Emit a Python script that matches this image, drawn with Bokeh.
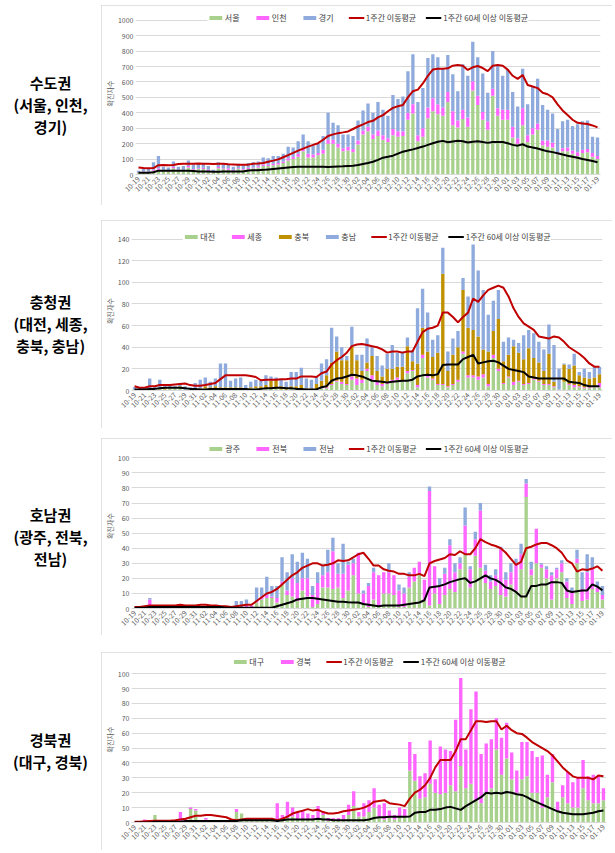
import math
import pandas as pd
from bokeh.plotting import figure
from bokeh.models import ColumnDataSource, FixedTicker, Legend, LegendItem, Range1d, Div, Spacer
from bokeh.layouts import row, column
from bokeh.embed import file_html
from bokeh.resources import INLINE

FONT = "Noto Sans CJK KR"
dates = [d.strftime("%m-%d") for d in pd.date_range("2020-10-19", "2021-01-19")]
xs = list(range(len(dates)))

# ---------------- Panel 1: 수도권 ----------------
seoul = [10,15,15,25,30,25,20,40,25,25, 45,30,35,35,25,15,40,35,30,25,
         35,30,35,40,45,55,55,60,65,75, 90,100,115,150,110,110,125,135,200,200,
         175,150,155,145,195,260,280,230,250,225, 210,255,245,250,355,395,215,245,365,410,
         390,380,470,320,305,360,310,545,450,355, 290,510,380,355,355,240,200,320,210,260,
         290,190,180,175,130,150,150,135,120,140, 145,115,100]
incheon = [3,4,3,5,10,5,5,10,5,5, 10,5,5,8,5,3,8,5,10,5,
           5,5,8,5,8,10,8,10,10,10, 15,15,20,20,25,20,15,25,25,25,
           25,20,25,20,25,25,30,30,35,30, 25,40,35,30,45,60,40,55,70,85,
           65,55,65,90,45,60,60,60,60,50, 55,45,50,65,65,70,35,110,45,40,
           40,30,40,30,15,20,25,20,25,20, 20,25,20]
gyeonggi = [12,16,17,50,80,20,20,35,20,25, 35,30,30,32,25,12,32,30,30,20,
            30,25,32,35,32,45,42,50,45,50, 75,60,80,90,80,60,60,90,175,110,
            120,90,80,85,130,130,150,140,185,165, 145,220,210,225,270,325,215,260,320,285,
            305,255,240,240,190,295,270,255,250,250, 185,245,280,220,260,225,205,255,200,270,
            290,230,200,190,150,175,180,160,180,185, 185,105,120]
ma1 = [46,42,41,42,60,61,60,62,68,70, 70,70,71,70,70,68,69,70,66,65,
       64,63,64,70,72,75,83,90,98,112, 126,140,155,168,181,192,203,225,250,260,
       268,273,279,295,311,325,340,348,370,385, 410,432,442,450,500,540,550,590,640,680,
       686,686,688,705,710,705,678,695,703,690, 670,705,710,705,680,640,620,645,580,570,
       560,530,520,500,455,415,385,355,335,330, 327,318,305]
old1 = [12,12,12,15,25,25,25,25,25,24, 24,22,20,20,20,18,18,20,20,20,
        20,20,26,27,28,30,33,36,39,42, 45,48,50,50,50,50,50,50,48,50,
        52,53,55,57,61,68,75,83,95,109, 115,122,135,148,155,163,172,181,192,203,
        212,218,209,214,218,216,207,212,216,210, 205,211,211,211,203,192,187,196,181,175,
        168,159,150,145,138,130,122,115,108,100, 94,88,80]

# ---------------- Panel 2: 충청권 ----------------
daejeon = [1,1,1,2,1,2,1,2,2,3, 1,1,1,1,2,1,2,2,2,2,
           2,2,1,2,2,2,2,2,2,1, 1,2,2,2,1,1,1,2,2,5,
           8,6,5,10,5,7,18,10,5,4, 6,8,10,8,16,18,3,30,12,10,
           5,5,3,5,8,34,12,12,10,12, 4,30,18,6,12,5,8,5,6,10,
           8,5,5,3,1,8,5,3,3,2, 2,3,3]
sejong = [0,0,0,0,0,0,0,0,0,0, 0,0,0,0,0,0,0,0,0,0,
          0,0,0,0,0,0,0,0,0,0, 0,0,0,0,0,0,0,1,1,1,
          1,2,1,3,6,3,2,4,3,2, 2,2,2,1,2,1,2,3,2,1,
          1,1,1,1,2,2,2,2,3,3, 2,3,2,1,1,3,1,1,1,1,
          1,1,1,1,0,0,1,2,1,1, 1,1,4]
chungbuk = [0,0,0,0,0,0,1,1,0,1, 0,0,1,1,2,2,2,1,1,1,
            1,1,1,1,2,2,3,7,8,3, 2,2,2,3,1,1,5,6,11,20,
            27,20,22,28,17,8,6,18,10,7, 12,10,10,13,23,8,20,25,22,20,
            29,102,14,27,30,57,44,42,37,23, 30,22,46,20,20,33,26,23,32,19,
            17,12,28,4,0,16,14,18,10,9, 8,8,8]
chungnam = [2,1,1,9,3,8,2,2,2,3, 3,2,5,8,8,5,7,22,22,6,
            8,9,3,5,6,5,9,4,2,6, 5,13,13,16,9,8,7,16,15,32,
            14,12,4,18,5,15,22,8,14,10, 14,22,13,14,8,10,51,36,36,16,
            16,24,18,15,15,11,29,79,61,55, 34,28,27,18,16,6,9,22,17,23,
            19,20,27,34,19,1,4,11,3,8, 6,10,7]
ma2 = [4,2.5,2.5,4,4,5,5,5,5.5,6, 6.5,5,4.5,4.5,5,6,7,10.5,14,14,
       14,14,14,13.5,12.5,9.5,10,10,10,10.5, 10.5,11,11,13,13,13,12.5,16,17.5,24,
       28,31,35,41,42.5,43,42,41,40,38, 35,36,36,35,36,36,45,54,57,58,
       60,72,72,68,63,68,72,85,82,88, 93,95,97,95,87,76,68,62,59,56,
       50,49,48,50,49,45,40,37,34,30, 25,22,22]
old2 = [1,1,1,1.5,1.5,2,2.5,2.5,2.5,2.5, 2,1.5,1.5,1,1,1.5,1.5,1.5,1.5,1.5,
        1.5,1.5,1.5,1,1,1.5,2,2,2.5,2.5, 2,2,1.5,1.5,1,1,1,3,4,9,
        11,11.5,13,14.5,14,13,11,9,8.5,8, 7.5,8,8.5,9,9,10,13,14,14.5,14,
        15,23.5,24,24,24,29,31,33,25,26, 27,27.5,26,23,20,19,18,17,13,12,
        11,11,11,11,11,11,8,7.5,7,5, 4,4,4]

# ---------------- Panel 3: 호남권 ----------------
gwangju = [0,0,0,2,0,1,1,0,1,1, 0,1,0,1,1,0,1,0,0,0,
           1,1,1,1,4,6,7,7,4,16, 9,8,5,12,8,1,3,14,14,13,
           14,7,12,22,10,3,1,6,1,10, 10,9,1,1,14,18,23,5,2,10,
           3,9,13,11,26,36,14,35,27,17, 13,15,9,8,16,12,26,74,22,30,
           27,20,6,20,24,7,3,30,5,6, 13,11,6]
jeonbuk = [0,0,1,4,1,0,0,1,0,1, 1,0,1,0,0,1,0,1,0,0,
           0,0,1,1,1,2,2,1,3,2, 3,12,12,8,12,8,14,8,10,25,
           9,16,17,8,27,7,14,18,21,14, 14,13,11,9,7,9,8,14,76,18,
           12,14,29,13,4,19,12,11,38,8, 5,7,30,11,8,18,10,9,4,23,
           2,6,16,6,6,11,8,3,8,18, 14,3,3]
jeonnam = [0,0,0,1,0,0,0,0,0,0, 0,0,0,0,0,0,0,0,0,0,
           4,4,4,0,9,6,12,7,8,16, 12,16,14,17,13,6,7,6,15,9,
           7,20,2,3,0,2,2,3,0,0, 6,0,4,4,3,0,0,0,3,0,
           5,4,4,6,4,12,2,5,5,4, 4,4,2,5,6,3,7,3,5,0,
           1,2,2,1,2,2,3,6,11,12, 7,4,6]
ma3 = [1,1,1.5,2,2,2,2,2,2,2.5, 2,2,2,2.5,2.5,2,2,1.5,1.5,1,
       1.5,2,2.5,2.5,5,7.5,10,11,13,16, 19,22,24,27,28.5,30,30,28.5,29,30,
       32,31.5,32,34,36,37,33,28.5,28.5,26, 25,24.5,23,23,22,22,23,21.5,30,31.5,
       32.5,33.5,36,35.5,38,36,36,40,46,44, 42.5,41.5,40,37,33,29,31,40,41,42.5,
       43.5,43.5,42,40,37,32,30,24.5,26,25.5, 26.5,28,25]
old3 = [0.5,0.5,0.5,1,1,1,1,1,1,1, 1,1,1,1,1,1,1,1,0.5,0.5,
        0.5,0.5,0.5,0.5,0.5,0.5,0.5,0.5,1.5,2.5, 3.5,4.5,6,6.5,7,7,6.5,6,5.5,5,
        4.5,4.5,4.2,4,4,3,2.5,2,1.5,2, 2,2,2,2.5,3,3.5,4,5.5,14,14.5,
        15,16,17.5,18.5,19.5,20,17,18,20,22, 20,19,17,14,13,11,8,8,15,15,
        16,16,17.5,17.5,17,12,11,11.5,12,12, 16,14.5,12]

# ---------------- Panel 4: 경북권 ----------------
daegu = [0,0,0,0,5,1,0,1,0,1, 1,9,8,1,2,1,0,1,1,0,
         7,6,1,1,1,2,1,1,2,2, 3,4,2,2,2,2,3,5,1,1,
         1,2,5,11,4,4,7,10,4,2, 3,2,4,4,35,28,16,17,26,20,
         19,20,25,21,38,23,26,15,13,20, 23,49,32,43,29,20,29,31,20,20,
         10,17,27,8,17,13,10,10,23,15, 13,13,15]
gyeongbuk = [0,0,2,0,0,0,1,0,1,6, 2,1,1,0,1,0,1,0,0,1,
             2,0,1,1,1,1,1,0,11,3, 11,6,5,6,4,3,8,2,2,2,
             2,3,7,10,3,9,8,13,8,11, 5,3,6,5,19,18,15,16,29,9,
             32,29,23,48,59,26,50,73,33,33, 33,21,25,24,18,15,25,23,28,24,
             35,15,19,6,8,21,17,20,19,16, 19,18,8]
ma4 = [0.5,0.5,0.8,1,1.2,1.2,1.2,1.2,1.5,2, 2.5,3.5,4.5,4.5,5,5,4.5,4,3.5,2,
       1.5,2,2.5,2.5,2.5,2.5,2.5,2.5,1.5,2.5, 4,6,7,8,9,8,8.5,7,6,6,
       6.5,7.5,8,8.5,9,10,11.5,14,14.5,15, 13,12.5,12,11,16,20,22,25,30,37,
       42,42,42,48,56,56,62,68,68,67.5, 68,68,62.5,65,62,60,59.5,57,54,52,
       50,48,45,41,37,34,31,30,30,30, 29,31.5,31]
old4 = [0,0,0,0,0.5,0.5,0.5,0.5,0.5,0.5, 1,1,1,1,1,1,1,1,1,1,
        1,1.5,1.5,1.5,1.5,1.5,1.5,1.5,1,1.5, 2,2,2,2,2,2,2.5,2,2,1.5,
        1.5,1.5,1.5,1.5,1.5,1.5,2,3,3.5,3.5, 3.8,3.8,3.8,3.8,4,6.5,7,7,8.5,8.5,
        9,10,10.5,9.5,8.5,11,13,15,17,20, 19.5,20,19.5,20.5,20,19,18.5,17,15,13.5,
        12,10.5,9,7.5,6.5,6,5.5,5.5,5.5,6, 6.5,7.5,8]

MA_LABEL = "1주간 이동평균"
OLD_LABEL = "1주간 60세 이상 이동평균"

GREEN, MAGENTA, BLUE, GOLD = "#a9d18e", "#ff66ff", "#8faadc", "#bf9000"
FIG_W = 511


def make_panel(names, values, colors, ma, old, y_end, y_top_tick, y_step,
               height, top, bottom, right):
    data = {"x": xs, "ma": ma, "old": old}
    keys = []
    for i, v in enumerate(values):
        k = "s%d" % i
        keys.append(k)
        data[k] = v
    src = ColumnDataSource(data)
    p = figure(width=FIG_W, height=height, x_range=Range1d(-0.6, len(xs) - 0.4),
               y_range=Range1d(0, y_end), output_backend="svg", toolbar_location=None,
               min_border_top=top, min_border_bottom=bottom, min_border_left=4,
               min_border_right=right, margin=0)
    bars = p.vbar_stack(keys, x="x", width=0.66, color=colors, line_color=None, source=src)
    lr = p.line("x", "ma", source=src, line_color="#c00000", line_width=2)
    lb = p.line("x", "old", source=src, line_color="#000000", line_width=2)

    items = [LegendItem(label=n, renderers=[r]) for n, r in zip(names, bars)]
    items += [LegendItem(label=MA_LABEL, renderers=[lr]),
              LegendItem(label=OLD_LABEL, renderers=[lb])]
    leg = Legend(items=items, location="top_center", orientation="horizontal",
                 label_text_font=FONT, label_text_font_size="8px",
                 label_text_color="#404040", glyph_width=16, glyph_height=5,
                 label_standoff=2, spacing=9, padding=2, margin=0,
                 border_line_color=None, background_fill_color="white",
                 background_fill_alpha=1.0, label_height=10)
    p.add_layout(leg)

    p.outline_line_color = None
    p.xgrid.visible = False
    p.ygrid.grid_line_color = "#d9d9d9"
    p.ygrid.grid_line_width = 1

    yax = p.yaxis[0]
    yax.ticker = FixedTicker(ticks=list(range(0, y_top_tick + 1, y_step)))
    yax.axis_line_color = None
    yax.major_tick_line_color = None
    yax.minor_tick_line_color = None
    yax.major_tick_out = 0
    yax.major_tick_in = 0
    yax.minor_tick_out = 0
    yax.major_label_text_font = FONT
    yax.major_label_text_font_size = "7px"
    yax.major_label_text_color = "#595959"
    yax.major_label_standoff = 2
    yax.axis_label = "확진자수"
    yax.axis_label_text_font = FONT
    yax.axis_label_text_font_size = "7px"
    yax.axis_label_text_font_style = "normal"
    yax.axis_label_text_color = "#595959"
    yax.axis_label_standoff = 0

    xax = p.xaxis[0]
    ticks = xs[::2]
    xax.ticker = FixedTicker(ticks=ticks)
    xax.major_label_overrides = {i: dates[i] for i in ticks}
    xax.major_label_orientation = math.pi / 4
    xax.axis_line_color = "#d9d9d9"
    xax.major_tick_line_color = None
    xax.minor_tick_line_color = None
    xax.major_tick_out = 0
    xax.major_tick_in = 0
    xax.minor_tick_out = 0
    xax.major_label_text_font = FONT
    xax.major_label_text_font_size = "7px"
    xax.major_label_text_color = "#595959"
    xax.major_label_standoff = 3

    p.styles = {"outline": "1px solid #d9d9d9", "outline-offset": "-1px"}
    return p


def label_div(lines, h):
    inner = "".join("<div>%s</div>" % ln for ln in lines)
    html = ('<div style="width:101px;height:%dpx;display:flex;flex-direction:column;'
            'justify-content:center;align-items:center;text-align:center;'
            "font-family:'Noto Sans CJK KR',sans-serif;font-weight:700;font-size:15px;"
            'line-height:22px;color:#000;">%s</div>' % (h, inner))
    return Div(text=html, width=101, height=h, margin=0)


p1 = make_panel(["서울", "인천", "경기"], [seoul, incheon, gyeonggi],
                [GREEN, MAGENTA, BLUE], ma1, old1, 1050, 1000, 100, 200, 7, 31, 12)
p2 = make_panel(["대전", "세종", "충북", "충남"], [daejeon, sejong, chungbuk, chungnam],
                [GREEN, MAGENTA, GOLD, BLUE], ma2, old2, 147, 140, 20, 208, 11, 38, 10)
p3 = make_panel(["광주", "전북", "전남"], [gwangju, jeonbuk, jeonnam],
                [GREEN, MAGENTA, BLUE], ma3, old3, 109.5, 100, 10, 197, 5, 27, 7)
p4 = make_panel(["대구", "경북"], [daegu, gyeongbuk],
                [GREEN, MAGENTA], ma4, old4, 111.5, 100, 10, 198, 4, 28, 6)

layout = column(
    Spacer(height=5, width=10, margin=0),
    row(label_div(["수도권", "(서울, 인천,", "경기)"], 200), p1, margin=0),
    Spacer(height=15, width=10, margin=0),
    row(label_div(["충청권", "(대전, 세종,", "충북, 충남)"], 208), p2, margin=0),
    Spacer(height=10, width=10, margin=0),
    row(label_div(["호남권", "(광주, 전북,", "전남)"], 197), p3, margin=0),
    Spacer(height=17, width=10, margin=0),
    row(label_div(["경북권", "(대구, 경북)"], 198), p4, margin=0),
    margin=0,
)

open("out.html", "w").write(file_html(layout, INLINE))
